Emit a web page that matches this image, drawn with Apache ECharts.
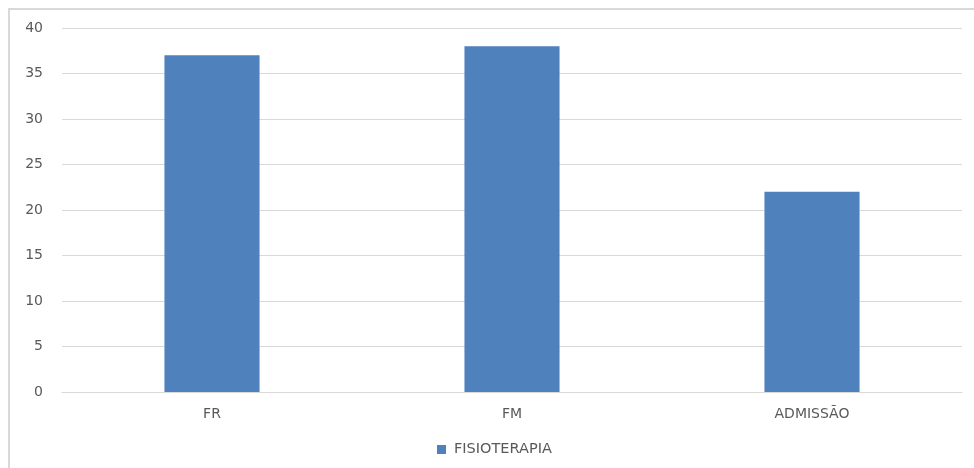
<!DOCTYPE html>
<html>
<head>
<meta charset="utf-8">
<script src="https://cdn.jsdelivr.net/npm/echarts@6/dist/echarts.min.js"></script>
<style>
html,body{margin:0;padding:0;background:#fff;}
#frame{position:absolute;left:8px;top:8px;width:966px;height:460px;border-left:2px solid #d9d9d9;border-top:2px solid #d9d9d9;box-sizing:border-box;}
#chart{position:absolute;left:0;top:0;width:974px;height:468px;}
</style>
</head>
<body>
<div id="frame"></div>
<div id="chart"></div>
<script>
const categories = ['FR', 'FM', 'ADMISSÃO'];
const seriesName = 'FISIOTERAPIA';
const values = [37, 38, 22];
const yTicks = [0, 5, 10, 15, 20, 25, 30, 35, 40];

const chart = echarts.init(document.getElementById('chart'), null, {renderer: 'canvas'});
const textStyle = {color: '#595959', fontFamily: 'DejaVu Sans', fontSize: 14};
chart.setOption({
  animation: false,
  backgroundColor: 'transparent',
  grid: {left: 62, right: 12, top: 28, bottom: 76, containLabel: false},
  legend: {
    data: [seriesName],
    bottom: 6,
    left: 432,
    icon: 'rect',
    itemWidth: 9,
    itemHeight: 9,
    itemGap: 6,
    textStyle: Object.assign({}, textStyle, {fontSize: 14.5, padding: [0, 0, 0, 3]})
  },
  xAxis: {
    type: 'category',
    data: categories,
    axisLine: {show: true, lineStyle: {color: '#d9d9d9'}},
    axisTick: {show: false},
    axisLabel: Object.assign({}, textStyle, {margin: 15})
  },
  yAxis: {
    type: 'value',
    min: yTicks[0],
    max: yTicks[yTicks.length - 1],
    interval: 5,
    axisLine: {show: false},
    axisTick: {show: false},
    splitLine: {lineStyle: {color: '#d9d9d9', width: 1}},
    axisLabel: Object.assign({}, textStyle, {margin: 19})
  },
  series: [{
    name: seriesName,
    type: 'bar',
    data: values,
    barWidth: '31.7%',
    itemStyle: {color: '#4F81BD'}
  }]
});
</script>
</body>
</html>
